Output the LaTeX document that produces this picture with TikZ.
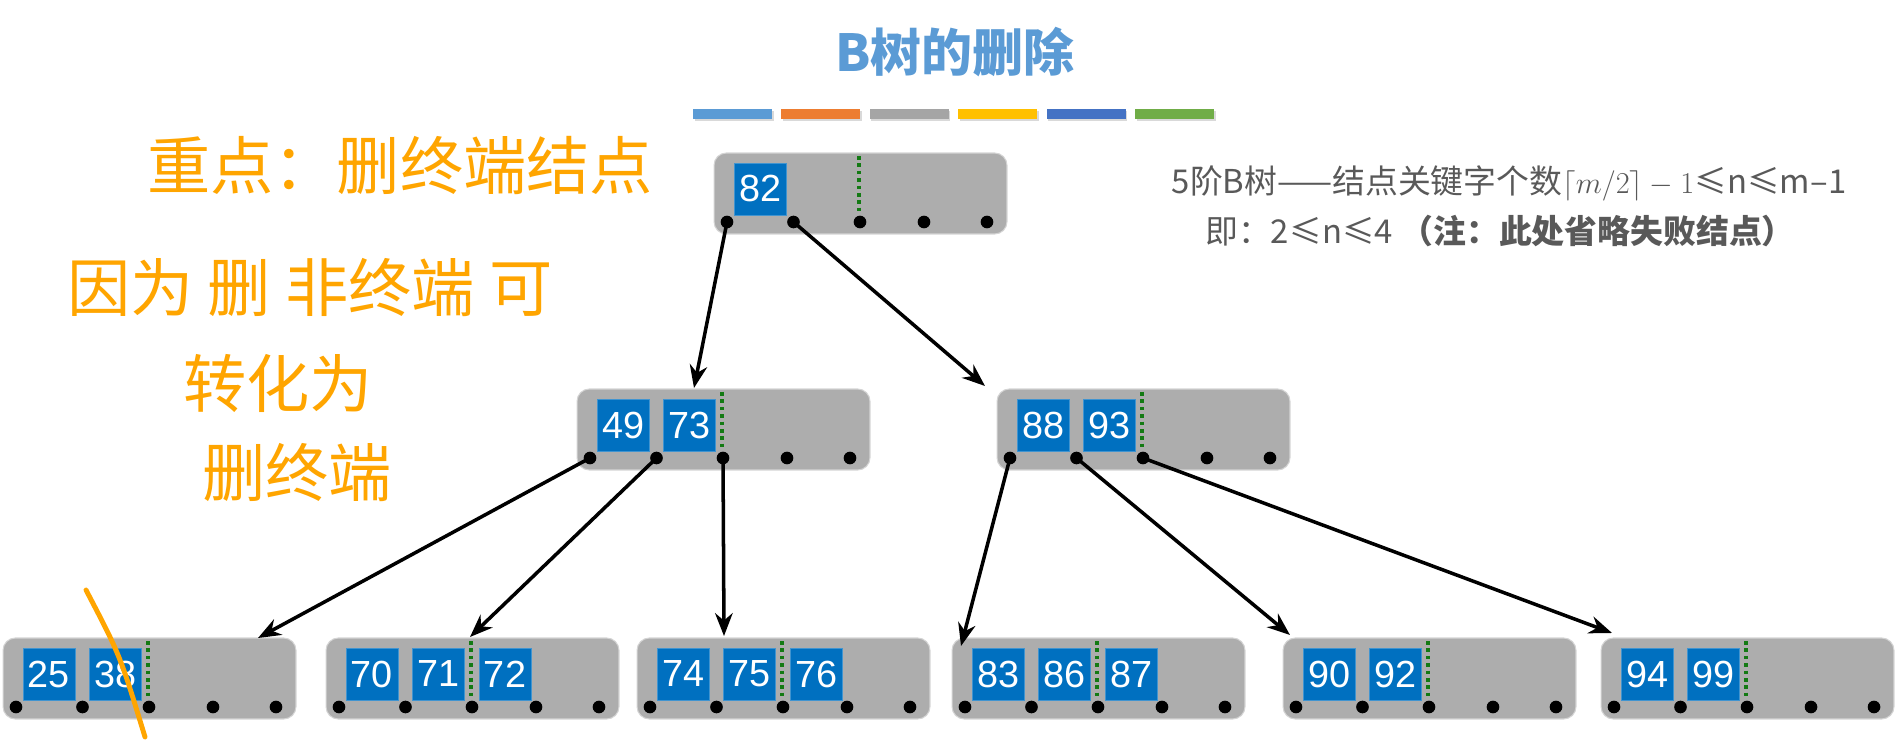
\documentclass[tikz,border=0pt]{standalone}
\usepackage{amsmath,amssymb}
\usepackage{fontspec}
\usepackage{xcolor}
\usepackage{tikz}
\usetikzlibrary{arrows.meta}

\newfontfamily\cjk{Noto Sans CJK SC}
\newfontfamily\keyfont{Liberation Sans}

\definecolor{titleblue}{HTML}{5B9BD5}
\definecolor{barA}{HTML}{5B9BD5}
\definecolor{barB}{HTML}{ED7D31}
\definecolor{barC}{HTML}{A5A5A5}
\definecolor{barD}{HTML}{FFC000}
\definecolor{barE}{HTML}{4472C4}
\definecolor{barF}{HTML}{70AD47}
\definecolor{nodegray}{HTML}{ADADAD}
\definecolor{nodeedge}{HTML}{D4D4D4}
\definecolor{keyblue}{HTML}{0070C0}
\definecolor{slotgreen}{HTML}{137A13}
\definecolor{handorange}{HTML}{FFA500}
\definecolor{rulegray}{HTML}{595959}

\tikzset{
  gbox/.style={fill=nodegray,draw=nodeedge,line width=0.6pt,rounded corners=7pt,
    minimum width=5.86cm,minimum height=1.62cm,inner sep=0pt},
  keybox/.style={fill=keyblue,draw=keyblue!75!white,line width=0.4pt,
    minimum width=1.04cm,minimum height=1.04cm,inner sep=0pt,text=white,
    font=\keyfont\fontsize{21.5}{21.5}\selectfont},
  slot/.style={draw=slotgreen,line width=2pt,dash pattern=on 2.1pt off 2.1pt},
  link/.style={->,line width=2pt},
  note/.style={text=handorange,font=\cjk\fontsize{36}{40}\selectfont,inner sep=0pt},
  ruletext/.style={text=rulegray,font=\cjk\fontsize{18.7}{20}\selectfont,inner sep=0pt},
}

% #1 name, #2 left, #3 top, #4 keys
\newcommand{\bnode}[4]{%
  \node[gbox] (#1) at (#2+146.5,#3+40.5) {};
  \draw[slot] (#2+145,#3+3) -- (#2+145,#3+62);
  \foreach \k [count=\i] in {#4}
    \node[keybox] (#1-k\i) at ({#2+46+(\i-1)*66.5},#3+36) {\k};
  \foreach \d [count=\j] in {13,79.5,146,210,273}
    \fill (#2+\d,#3+69) coordinate (#1-p\j) circle (3.6pt);
}

\begin{document}
\begin{tikzpicture}[x=0.02cm,y=-0.02cm,>={Stealth[length=13pt,width=10pt]}]
  \useasboundingbox (0,0) rectangle (1899,756);

  % title and colour bars
  \node[text=titleblue,font=\cjk\bfseries\fontsize{29}{30}\selectfont] (title) at (955,52) {B树的删除};
  \foreach \c [count=\i] in {barA,barB,barC,barD,barE,barF}{
    \fill[black!15] ({693+(\i-1)*88.4+1.5},111) rectangle ++(79,10);
    \fill[\c] ({693+(\i-1)*88.4},109) rectangle ++(79,10);
  }

  % rule text
  \node[ruletext] (order) at (1509,183) {5阶B树——结点关键字个数$\lceil m/2\rceil-1$≤n≤m–1};
  \node[ruletext] (range) at (1500,231) {即：2≤n≤4 {\bfseries （注：此处省略失败结点）}};

  % handwritten notes
  \node[note] (note1) at (400,166) {重点：删终端结点};
  \node[note] (note2) at (310,287) {因为 删 非终端 可};
  \node[note] (note3) at (278,383) {转化为};
  \node[note] (note4) at (297,472) {删终端};

  % tree
  \bnode{root}{714}{153}{82}
  \bnode{ml}{577}{389}{49,73}
  \bnode{mr}{997}{389}{88,93}
  \bnode{b1}{3}{638}{25,38}
  \bnode{b2}{326}{638}{70,71,72}
  \bnode{b3}{637}{638}{74,75,76}
  \bnode{b4}{952}{638}{83,86,87}
  \bnode{b5}{1283}{638}{90,92}
  \bnode{b6}{1601}{638}{94,99}

  \coordinate (ml-in) at (694,388);
  \coordinate (mr-in) at (985,386);
  \coordinate (b1-in) at (258,638);
  \coordinate (b2-in) at (470,637);
  \coordinate (b3-in) at (724,636);
  \coordinate (b4-in) at (961,646);
  \coordinate (b5-in) at (1290,635);
  \coordinate (b6-in) at (1612,633);

  \draw[link] (root-p1) -- (ml-in);
  \draw[link] (root-p2) -- (mr-in);
  \draw[link] (ml-p1) -- (b1-in);
  \draw[link] (ml-p2) -- (b2-in);
  \draw[link] (ml-p3) -- (b3-in);
  \draw[link] (mr-p1) -- (b4-in);
  \draw[link] (mr-p2) -- (b5-in);
  \draw[link] (mr-p3) -- (b6-in);

  % strike over 38
  \draw[handorange,line width=2.8pt,line cap=round] (86,590) .. controls (120,655) .. (145,737);
\end{tikzpicture}
\end{document}
